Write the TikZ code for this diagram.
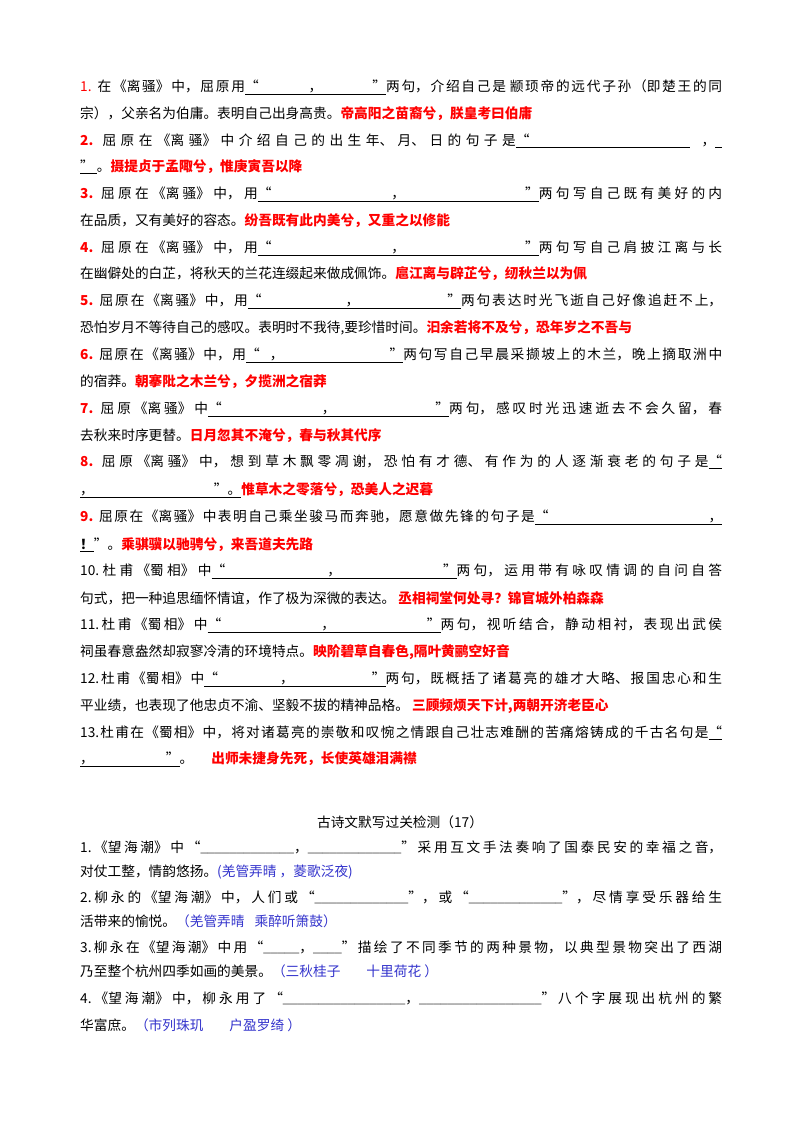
\documentclass[tikz,border=0pt]{standalone}
\usepackage{fontspec}
\setmainfont{Noto Sans CJK SC}
\newfontfamily\monof{Liberation Mono}
\XeTeXlinebreaklocale "zh"
\XeTeXlinebreakskip=0pt plus 4pt minus 0.5pt
\definecolor{ansred}{HTML}{FF0000}
\definecolor{ansblue}{HTML}{3333CC}
\newcommand{\ans}[1]{{\color{ansred}\bfseries #1}}
\newcommand{\ansb}[1]{{\color{ansblue}#1}}
\newcommand{\qn}[1]{{\color{ansred}\bfseries #1}}
\newcommand{\ul}[1]{\underline{#1}}
\newcommand{\us}[1]{{\monof\fontsize{12}{12}\selectfont #1}}
\begin{document}
\begin{tikzpicture}[x=1pt,y=1pt,
  ln/.style={anchor=west,inner sep=0pt,font=\fontsize{13.7}{15}\selectfont},
  full/.style={ln,text width=642pt,align=justify,execute at begin node={\parfillskip=0pt\relax}}]
\fill[white] (0,0) rectangle (800,-1134);
\useasboundingbox (0,0) rectangle (800,-1134);
\node[full] (l1) at (80,-87) {{\color{ansred}1.} 在《离骚》中，屈原用\ul{“\hspace{50pt}，\hspace{50pt}”}两句，介绍自己是 颛顼帝的远代子孙（即楚王的同};
\node[ln] (l2) at (80,-114) {宗），父亲名为伯庸。表明自己出身高贵。\ans{帝高阳之苗裔兮，朕皇考曰伯庸}};
\node[full] (l3) at (80,-141) {\qn{2.} 屈原在《离骚》中介绍自己的出生年、月、日的句子是\ul{“\hspace{160pt}}\hspace{12pt}，\ul{\hspace{7pt}}};
\node[ln] (l4) at (80,-167) {\ul{”\hspace{3pt}}。\ans{摄提贞于孟陬兮，惟庚寅吾以降}};
\node[full] (l5) at (80,-194) {\qn{3.} 屈原在《离骚》中，用\ul{“\hspace{120pt}，\hspace{120pt}”}两句写自己既有美好的内};
\node[ln] (l6) at (80,-221) {在品质，又有美好的容态。\ans{纷吾既有此内美兮，又重之以修能}};
\node[full] (l7) at (80,-248) {\qn{4.} 屈原在《离骚》中，用\ul{“\hspace{120pt}，\hspace{120pt}”}两句写自己肩披江离与长};
\node[ln] (l8) at (80,-274) {在幽僻处的白芷，将秋天的兰花连缀起来做成佩饰。\ans{扈江离与辟芷兮，纫秋兰以为佩}};
\node[full] (l9) at (80,-301) {\qn{5.} 屈原在《离骚》中，用\ul{“\hspace{84pt}，\hspace{88pt}”}两句表达时光飞逝自己好像追赶不上，};
\node[ln] (l10) at (80,-328) {恐怕岁月不等待自己的感叹。表明时不我待,要珍惜时间。\ans{汩余若将不及兮，恐年岁之不吾与}};
\node[full] (l11) at (80,-355) {\qn{6.} 屈原在《离骚》中，用\ul{“\hspace{10pt}，\hspace{106pt}”}两句写自己早晨采撷坡上的木兰，晚上摘取洲中};
\node[ln] (l12) at (80,-382) {的宿莽。\ans{朝搴阰之木兰兮，夕揽洲之宿莽}};
\node[full] (l13) at (80,-409) {\qn{7.} 屈原《离骚》中\ul{“\hspace{100pt}，\hspace{100pt}”}两句，感叹时光迅速逝去不会久留，春};
\node[ln] (l14) at (80,-436) {去秋来时序更替。\ans{日月忽其不淹兮，春与秋其代序}};
\node[full] (l15) at (80,-462) {\qn{8.} 屈原《离骚》中，想到草木飘零凋谢，恐怕有才德、有作为的人逐渐衰老的句子是\ul{“}};
\node[ln] (l16) at (80,-490) {\ul{，\hspace{120pt}”。}\ans{惟草木之零落兮，恐美人之迟暮}};
\node[full] (l17) at (80,-517) {\qn{9.} 屈原在《离骚》中表明自己乘坐骏马而奔驰，愿意做先锋的句子是\ul{“\hspace{160pt}，}};
\node[ln] (l18) at (80,-545) {\ul{\bfseries ！}”。\ans{乘骐骥以驰骋兮，来吾道夫先路}};
\node[full] (l19) at (80,-571) {10.杜甫《蜀相》中\ul{“\hspace{102pt}，\hspace{102pt}”}两句，运用带有咏叹情调的自问自答};
\node[ln] (l20) at (80,-598) {句式，把一种追思缅怀情谊，作了极为深微的表达。 \ans{丞相祠堂何处寻？锦官城外柏森森}};
\node[full] (l21) at (80,-625) {11.杜甫《蜀相》中\ul{“\hspace{100pt}，\hspace{92pt}”}两句，视听结合，静动相衬，表现出武侯};
\node[ln] (l22) at (80,-652) {祠虽春意盎然却寂寥冷清的环境特点。\ans{映阶碧草自春色,隔叶黄鹂空好音}};
\node[full] (l23) at (80,-679) {12.杜甫《蜀相》中\ul{“\hspace{62pt}，\hspace{78pt}”}两句，既概括了诸葛亮的雄才大略、报国忠心和生};
\node[ln] (l24) at (80,-706) {平业绩，也表现了他忠贞不渝、坚毅不拔的精神品格。 \ans{三顾频烦天下计,两朝开济老臣心}};
\node[full] (l25) at (80,-733) {13.杜甫在《蜀相》中，将对诸葛亮的崇敬和叹惋之情跟自己壮志难酬的苦痛熔铸成的千古名句是\ul{“}};
\node[ln] (l26) at (80,-759) {\ul{，\hspace{72pt}”}。\hspace{18pt}\ans{出师未捷身先死，长使英雄泪满襟}};
\node[ln,anchor=center] (title) at (400,-822) {古诗文默写过关检测（17）};
\node[full] (m1) at (80,-847) {1.《望海潮》中“\us{\_\_\_\_\_\_\_\_\_\_\_\_\_}，\us{\_\_\_\_\_\_\_\_\_\_\_\_\_}”采用互文手法奏响了国泰民安的幸福之音，};
\node[ln] (m2) at (80,-872) {对仗工整，情韵悠扬。\ansb{(羌管弄晴 ，菱歌泛夜)}};
\node[full] (m3) at (80,-897) {2.柳永的《望海潮》中，人们或“\us{\_\_\_\_\_\_\_\_\_\_\_\_\_}”，或“\us{\_\_\_\_\_\_\_\_\_\_\_\_\_}”，尽情享受乐器给生};
\node[ln] (m4) at (80,-921) {活带来的愉悦。\ansb{（羌管弄晴\hspace{10pt}乘醉听箫鼓）}};
\node[full] (m5) at (80,-947) {3.柳永在《望海潮》中用“\us{\_\_\_\_\_}，\us{\_\_\_\_}”描绘了不同季节的两种景物，以典型景物突出了西湖};
\node[ln] (m6) at (80,-971) {乃至整个杭州四季如画的美景。\ansb{（三秋桂子\hspace{26pt}十里荷花 ）}};
\node[full] (m7) at (80,-998) {4.《望海潮》中，柳永用了“\us{\_\_\_\_\_\_\_\_\_\_\_\_\_\_\_\_\_}，\us{\_\_\_\_\_\_\_\_\_\_\_\_\_\_\_\_\_}”八个字展现出杭州的繁};
\node[ln] (m8) at (80,-1025) {华富庶。\ansb{（市列珠玑\hspace{26pt}户盈罗绮 ）}};
\end{tikzpicture}
\end{document}
